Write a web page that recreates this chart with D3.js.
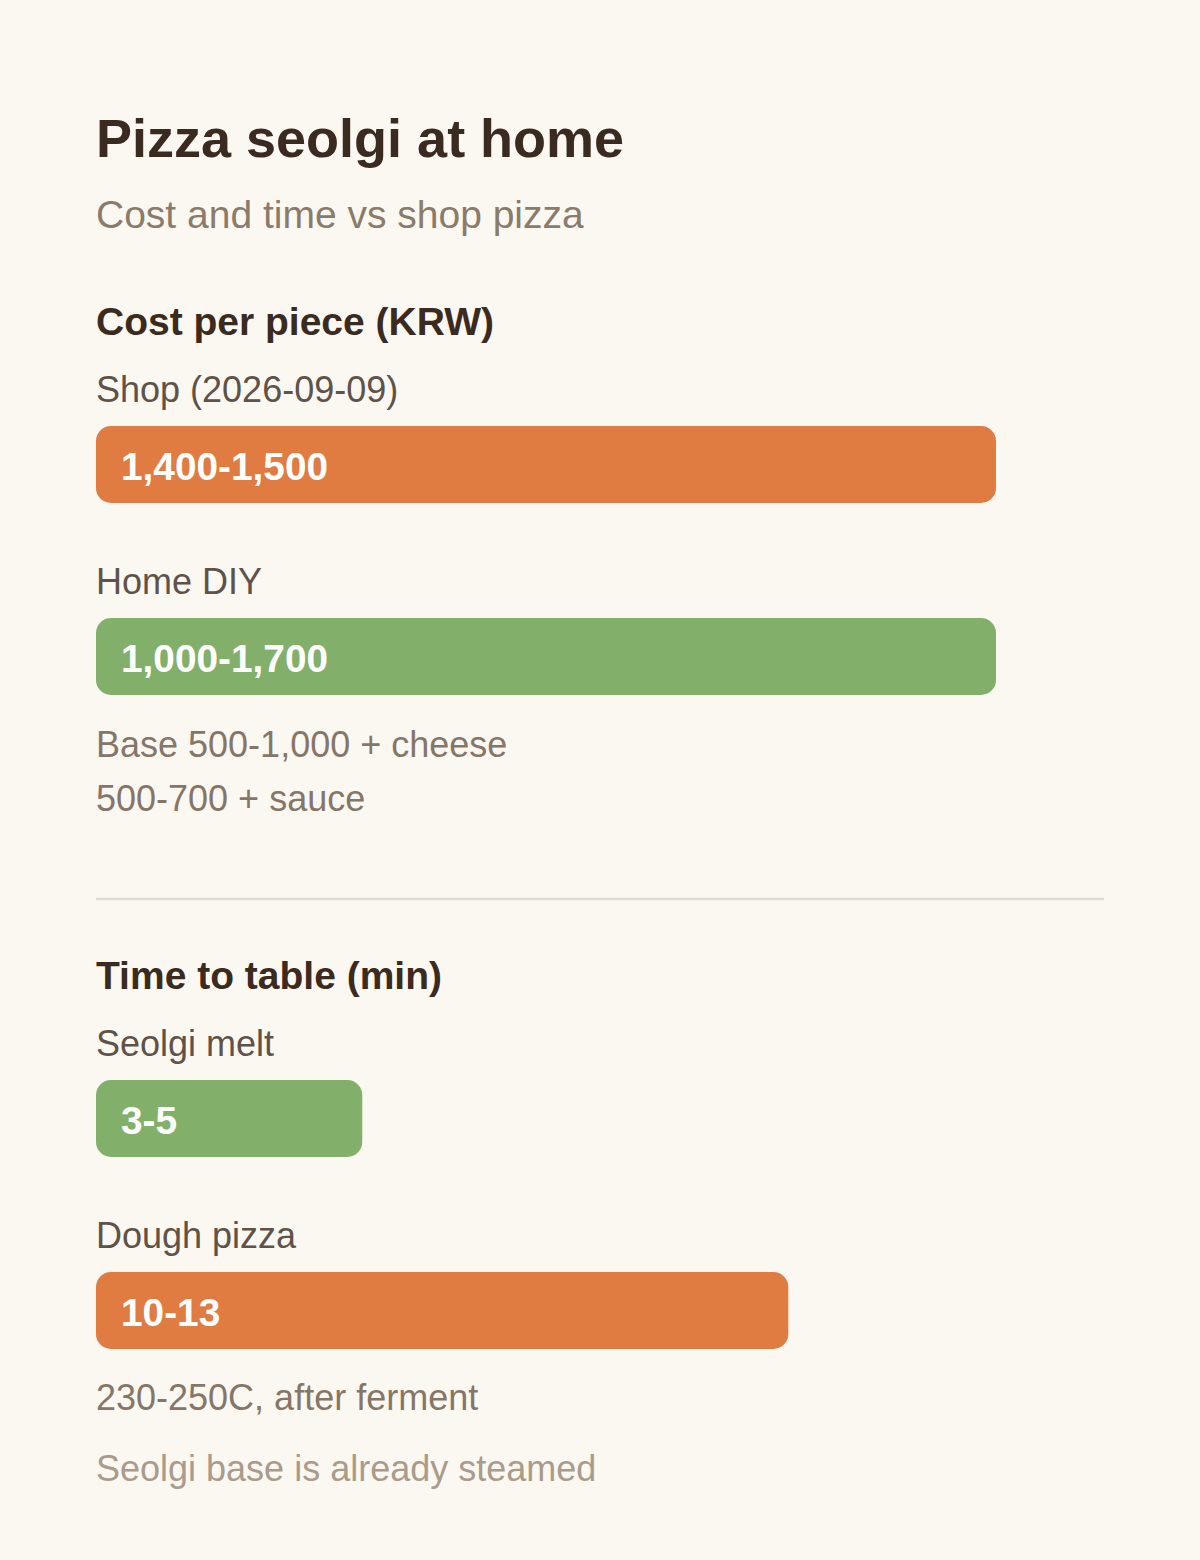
<!DOCTYPE html>
<html>
<head>
<meta charset="utf-8">
<script src="https://cdn.jsdelivr.net/npm/d3@7"></script>
<style>
  html, body { margin: 0; padding: 0; background: #fbf8f2; }
  svg { display: block; font-family: "Liberation Sans", Arial, sans-serif; }
</style>
</head>
<body>
<svg id="chart" width="1200" height="1560"></svg>
<script>
// ---- data ----
const title = "Pizza seolgi at home";
const subtitle = "Cost and time vs shop pizza";

const costTitle = "Cost per piece (KRW)";
const costCategories = ["Shop (2026-09-09)", "Home DIY"];
const costLow = [1400, 1000];
const costHigh = [1500, 1700];
const costColors = ["orange", "green"];
const costNotes = ["Base 500-1,000 + cheese", "500-700 + sauce"];

const timeTitle = "Time to table (min)";
const timeCategories = ["Seolgi melt", "Dough pizza"];
const timeLow = [3, 10];
const timeHigh = [5, 13];
const timeColors = ["green", "orange"];
const timeNotes = ["230-250C, after ferment"];
const footnote = "Seolgi base is already steamed";

// ---- styles ----
const palette = { orange: "#e07b41", green: "#82b06b" };
const left = 96, barMax = 900, barH = 77;

const svg = d3.select("#chart");
svg.append("rect").attr("width", 1200).attr("height", 1560).attr("fill", "#fbf8f2");

const fmt = d3.format(",");

svg.append("text").attr("x", left).attr("y", 157)
  .attr("font-size", 54).attr("font-weight", 700).attr("fill", "#3b2a20").text(title);
svg.append("text").attr("x", left).attr("y", 228)
  .attr("font-size", 39).attr("fill", "#8a7b6b").text(subtitle);

function section(top, head, cats, lo, hi, cols, x) {
  const g = svg.append("g");
  g.append("text").attr("x", left).attr("y", top)
    .attr("font-size", 39).attr("font-weight", 700).attr("fill", "#3b2a20").text(head);
  const rows = cats.map((c, i) => ({ c, lo: lo[i], hi: hi[i], col: cols[i], i }));
  const row = g.selectAll("g.row").data(rows).join("g").attr("class", "row")
    .attr("transform", d => `translate(0, ${top + 67 + d.i * 192})`);
  row.append("text").attr("x", left).attr("y", 0)
    .attr("font-size", 36).attr("fill", "#5e5249").text(d => d.c);
  row.append("rect").attr("x", left).attr("y", 24)
    .attr("width", d => x(d.hi)).attr("height", barH)
    .attr("rx", 15).attr("ry", 15).attr("fill", d => palette[d.col]);
  row.append("text").attr("x", left + 25).attr("y", 24 + barH / 2)
    .attr("dy", "0.4em")
    .attr("font-size", 38.8).attr("font-weight", 700).attr("fill", "#ffffff")
    .text(d => `${fmt(d.lo)}-${fmt(d.hi)}`);
}

const xCost = d3.scaleLinear().domain([0, 1500]).range([0, barMax]).clamp(true);
const xTime = d3.scaleLinear().domain([0, 16.9]).range([0, barMax]);

section(335, costTitle, costCategories, costLow, costHigh, costColors, xCost);
svg.selectAll("text.cnote").data(costNotes).join("text").attr("class", "cnote")
  .attr("x", left).attr("y", (d, i) => 757 + i * 54)
  .attr("font-size", 36).attr("fill", "#857668").text(d => d);

svg.append("line").attr("x1", left).attr("x2", 1104).attr("y1", 899).attr("y2", 899)
  .attr("stroke", "#e0dad2").attr("stroke-width", 2.5);

section(989, timeTitle, timeCategories, timeLow, timeHigh, timeColors, xTime);
svg.selectAll("text.tnote").data(timeNotes).join("text").attr("class", "tnote")
  .attr("x", left).attr("y", (d, i) => 1410 + i * 54)
  .attr("font-size", 36).attr("fill", "#857668").text(d => d);
svg.append("text").attr("x", left).attr("y", 1481)
  .attr("font-size", 36).attr("fill", "#aa9b8b").text(footnote);
</script>
</body>
</html>
